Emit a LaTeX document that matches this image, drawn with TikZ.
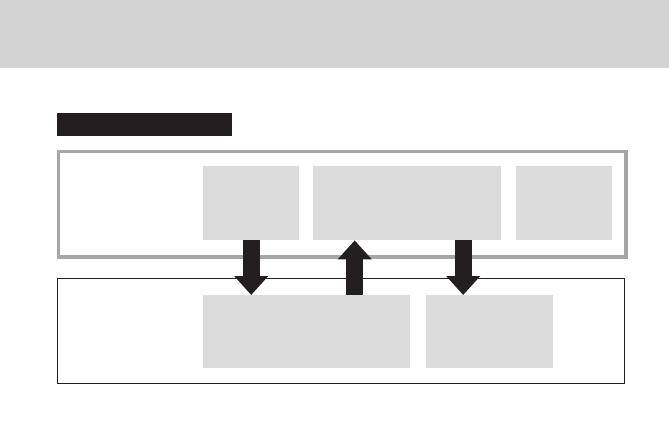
\documentclass[tikz,border=0pt]{standalone}
\usepackage{tikz}
\usetikzlibrary{positioning,arrows.meta,calc}
\definecolor{bandgray}{HTML}{D3D3D3}
\definecolor{boxgray}{HTML}{DCDCDC}
\definecolor{framegray}{HTML}{A6A6A6}
\definecolor{inkblack}{HTML}{231F20}

\begin{document}
\begin{tikzpicture}[x=1pt, y=-1pt,
    panel/.style={fill=boxgray, inner sep=0pt, anchor=north west},
    bigarrow/.style={draw=inkblack, line width=17pt,
      -{Triangle[width=33pt, length=19pt]}}]
    \useasboundingbox (0,0) rectangle (669,442);
    \fill[bandgray] (0,0) rectangle (669,68);
    \node[fill=inkblack, inner sep=0pt, minimum width=175pt, minimum height=23pt,
      anchor=north west] (titlebar) at (57,113) {};
    % upper layer
    \node[draw=framegray, line width=3.5pt, inner sep=0pt, minimum width=567.5pt,
      minimum height=105.5pt, anchor=north west] (upper) at (56.75,149.75) {};
    \node[panel, minimum width=96pt, minimum height=74pt] (box1) at (203,166) {};
    \node[panel, minimum width=188pt, minimum height=74pt] (box2) at (313,166) {};
    \node[panel, minimum width=96pt, minimum height=74pt] (box3) at (516,166) {};
    % lower layer
    \node[draw=inkblack, line width=1pt, inner sep=0pt, minimum width=567pt,
      minimum height=105pt, anchor=north west] (lower) at (56.5,277.5) {};
    \node[panel, minimum width=207pt, minimum height=73pt] (boxA) at (203,295) {};
    \node[panel, minimum width=127pt, minimum height=73pt] (boxB) at (426,295) {};
    % arrows
    \draw[bigarrow] (box1.south) -- (box1.south |- boxA.north);
    \draw[bigarrow] ([xshift=48pt]boxA.north) -- ([xshift=48pt]boxA.north |- box2.south);
    \draw[bigarrow] ([xshift=-26.5pt]boxB.north |- box2.south) -- ([xshift=-26.5pt]boxB.north);
  \end{tikzpicture}
\end{document}
